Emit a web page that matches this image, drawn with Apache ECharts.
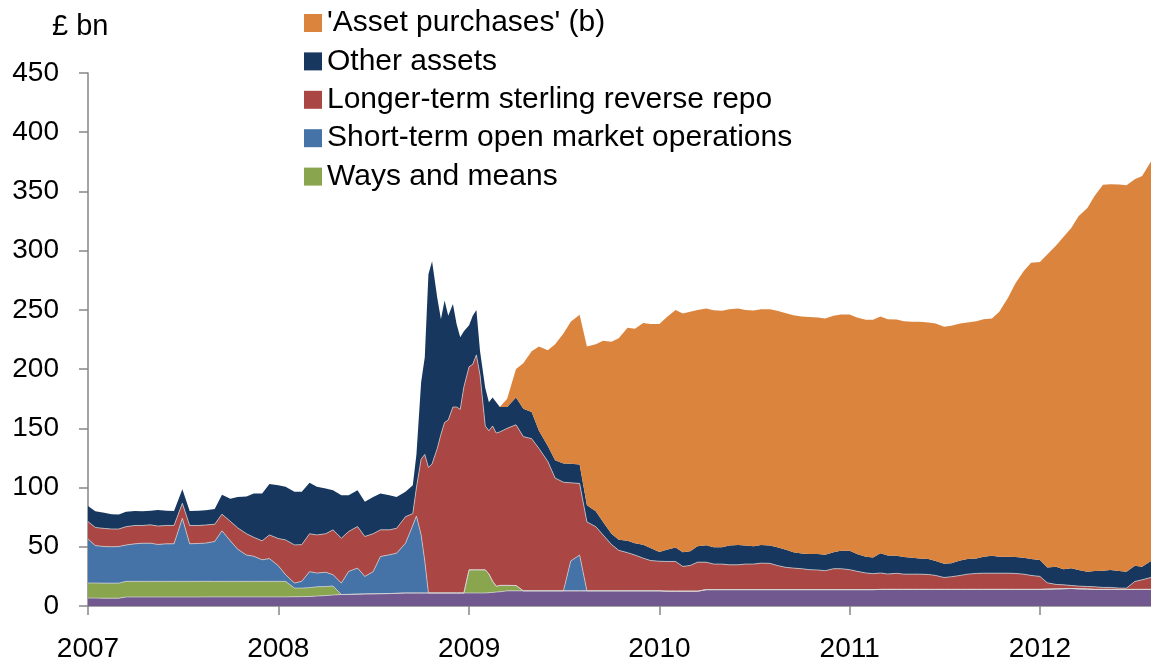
<!DOCTYPE html>
<html>
<head>
<meta charset="utf-8">
<script src="https://cdn.jsdelivr.net/npm/echarts@6/dist/echarts.min.js"></script>
<style>
  html, body { margin: 0; padding: 0; background: #fff; }
  #chart { width: 1151px; height: 663px; }
</style>
</head>
<body>
<div id="chart"></div>
<script>
// observation dates (semi-monthly, weekly around the late-2008 spike)
const dates = [
  '2007-01-01','2007-01-15','2007-02-01','2007-02-15','2007-03-01','2007-03-15','2007-04-01','2007-04-15','2007-05-01','2007-05-15','2007-06-01','2007-06-15',
  '2007-07-01','2007-07-15','2007-08-01','2007-08-15','2007-09-01','2007-09-15','2007-10-01','2007-10-15','2007-11-01','2007-11-15','2007-12-01','2007-12-15',
  '2008-01-01','2008-01-15','2008-02-01','2008-02-15','2008-03-01','2008-03-15','2008-04-01','2008-04-15','2008-05-01','2008-05-15','2008-06-01','2008-06-15',
  '2008-07-01','2008-07-15','2008-08-01','2008-08-15','2008-09-01',
  '2008-09-15','2008-09-22','2008-10-01','2008-10-08','2008-10-15','2008-10-22','2008-11-01','2008-11-08','2008-11-15','2008-11-22','2008-12-01','2008-12-08','2008-12-15','2008-12-22',
  '2009-01-01','2009-01-08','2009-01-15','2009-01-22','2009-02-01','2009-02-08','2009-02-15','2009-02-22','2009-03-01',
  '2009-03-15','2009-04-01','2009-04-15','2009-05-01','2009-05-15','2009-06-01','2009-06-15',
  '2009-07-01','2009-07-15','2009-08-01','2009-08-15','2009-09-01','2009-09-15','2009-10-01','2009-10-15','2009-11-01','2009-11-15','2009-12-01','2009-12-15',
  '2010-01-01','2010-01-15','2010-02-01','2010-02-15','2010-03-01','2010-03-15','2010-04-01','2010-04-15','2010-05-01','2010-05-15','2010-06-01','2010-06-15',
  '2010-07-01','2010-07-15','2010-08-01','2010-08-15','2010-09-01','2010-09-15','2010-10-01','2010-10-15','2010-11-01','2010-11-15','2010-12-01','2010-12-15',
  '2011-01-01','2011-01-15','2011-02-01','2011-02-15','2011-03-01','2011-03-15','2011-04-01','2011-04-15','2011-05-01','2011-05-15','2011-06-01','2011-06-15',
  '2011-07-01','2011-07-15','2011-08-01','2011-08-15','2011-09-01','2011-09-15','2011-10-01','2011-10-15','2011-11-01','2011-11-15','2011-12-01','2011-12-15',
  '2012-01-01','2012-01-15','2012-02-01','2012-02-15','2012-03-01','2012-03-15','2012-04-01','2012-04-15','2012-05-01','2012-05-15','2012-06-01','2012-06-15',
  '2012-07-01','2012-07-15','2012-08-01'
];

// £ bn, bottom layer (unlabelled)
const otherBase = [
  6.7,6.7,6.6,6.6,6.6,
  7.6,7.6,7.6,7.6,7.6,7.6,7.6,7.6,7.6,7.6,7.7,7.7,7.7,7.7,7.7,7.7,7.7,7.7,7.7,7.7,
  7.7,7.8,7.9,8.0,8.4,8.8,9.3,
  9.7,9.8,10.0,10.2,10.3,10.4,10.5,10.7,11.0,
  11.0,11.0,11.0,11.0,11.0,11.0,11.0,11.0,11.0,11.0,11.0,11.0,11.0,11.0,
  11.0,11.0,11.0,11.0,11.0,11.2,11.5,11.8,12.0,
  12.8,12.8,12.8,12.8,12.8,12.8,12.8,12.8,12.8,12.8,12.8,12.8,12.8,12.8,12.8,12.8,12.8,12.8,12.8,12.8,
  12.5,12.5,12.5,12.5,12.5,
  13.8,13.8,13.8,13.8,13.8,13.8,13.8,13.8,13.8,13.8,13.8,13.8,13.8,13.8,13.8,13.8,13.8,13.8,13.8,13.8,13.8,13.8,
  14.0,14.0,14.0,14.0,14.0,14.0,14.0,14.0,14.0,14.0,14.0,14.0,14.0,14.0,14.0,14.0,14.0,14.0,14.0,14.0,14.0,
  14.2,14.4,14.6,14.8,14.5,14.3,
  14.0,14.0,14.0,14.0,14.0,14.0,14.0,14.0
];

const waysAndMeans = [
  12.7,12.7,12.7,12.7,12.7,
  13.2,13.2,13.2,13.2,13.2,13.2,13.2,13.2,13.2,13.2,13.2,
  13.1,13.1,13.1,13.1,13.1,13.1,13.1,13.1,13.1,13.1,
  7.3,7.2,7.5,7.8,7.6,7.6,
  0,0,0,0,0,0,0,0,0,
  0,0,0,0,0,0,0,0,0,0,0,0,0,0,
  19.5,19.5,19.5,19.5,19.5,15.8,9.5,4.8,5.4,
  4.6,4.5,
  0,0,0,0,0,0,0,0,0,0,0,0,0,0,0,0,0,0,
  0,0,0,0,0,0,0,0,0,0,0,0,0,0,0,0,0,0,0,0,
  0,0,0,0,0,0,0,0,0,0,0,0,0,0,0,0,0,0,0,0,
  0,0,0,0,0,0,0,0,0,0,0,0,0,0,0,0,0,0,0,0,
  0,0
];

const shortTermOmo = [
  37.2,31.6,30.9,30.7,30.9,30.7,31.7,32.2,32.2,31.2,
  31.7,31.7,53.2,31.7,32.0,32.2,33.6,42.7,34.2,27.2,
  22.2,21.2,18.2,19.2,13.2,5.6,4.3,5.7,13.5,11.6,
  12.1,9.5,9.7,19.4,22.0,14.8,18.7,31.4,32.7,33.9,
  42.0,
  57.0,65.0,49.0,27.0,0,0,0,0,0,0,0,0,0,0,
  0,0,0,0,0,0,0,0,0,
  0,0,0,0,0,0,0,0,
  25.2,30.2,
  0,0,0,0,0,0,0,0,0,0,0,0,0,0,0,0,0,0,0,0,0,0,0,0,
  0,0,0,0,0,0,0,0,0,0,0,0,0,0,0,0,0,0,0,0,0,0,0,0,
  0,0,0,0,0,0,0,0,0,0,0,0,0,0,0,0,0,0,0,0,0,0,0,0
];

const longerTermRepo = [
  14.7,15.3,15.3,15.0,14.8,15.5,15.5,15.0,15.5,15.5,
  15.5,15.5,12.7,15.5,15.2,15.3,14.6,14.0,16.5,18.0,
  18.0,16.0,16.0,20.0,23.0,29.4,32.2,31.0,32.0,32.2,
  32.5,37.9,37.9,33.7,35.1,33.7,32.0,22.5,21.1,21.0,
  22.4,
  10.0,24.0,64.0,90.0,106.0,109.0,122.0,134.0,144.0,146.0,157.0,157.0,155.0,174.0,
  171.5,173.5,181.5,164.5,121.5,121.0,131.0,129.4,129.6,
  132.6,135.7,130.2,128.5,120.2,109.2,95.2,91.7,66.0,60.5,
  58.2,54.2,47.2,39.2,34.2,32.2,30.2,27.6,25.6,25.0,
  25.1,25.1,20.9,21.7,24.5,
  23.2,21.6,21.6,21.0,21.0,21.6,21.6,22.4,22.2,20.4,18.8,
  18.2,17.7,16.9,16.6,16.0,17.7,17.7,16.9,15.5,14.1,13.5,
  13.9,13.0,13.6,12.9,12.9,12.9,12.6,11.8,10.1,10.7,11.8,
  12.9,13.5,13.7,13.7,13.7,13.7,13.5,12.9,11.8,11.0,
  5.4,3.8,3.3,2.5,2.3,2.2,2.2,1.7,1.7,1.1,1.1,6.7,8.1,10.1
];

const otherAssets = [
  13.1,13.7,13.3,12.5,12.2,12.5,12.2,12.0,12.0,13.5,
  12.5,12.2,11.9,12.2,12.5,12.5,13.0,16.5,19.0,26.0,
  31.5,37.0,40.0,43.0,45.0,44.8,44.8,44.6,43.0,40.6,
  38.2,33.5,36.3,30.7,30.7,29.3,31.0,30.7,29.3,26.4,
  21.0,
  24.0,28.0,65.0,82.0,163.0,171.0,127.0,97.0,103.0,88.0,87.0,70.0,61.0,47.0,
  35.0,41.0,38.0,20.0,32.0,24.0,24.0,26.0,21.0,
  18.0,23.0,23.5,22.4,15.0,13.0,15.0,15.8,16.0,16.0,
  14.0,13.0,11.0,9.0,9.0,10.0,10.0,11.3,10.5,7.7,
  9.8,11.8,12.0,12.1,13.5,
  14.3,14.2,14.2,16.2,16.8,15.6,15.1,15.4,15.0,15.4,14.8,
  13.4,12.8,13.1,13.4,13.4,13.9,15.1,15.9,14.5,13.6,13.7,
  16.7,15.6,14.9,14.5,13.9,13.3,13.1,12.2,11.6,11.3,12.7,
  12.8,12.7,13.9,14.8,13.9,13.9,13.9,13.9,13.9,13.8,
  12.8,15.0,13.1,14.5,13.6,12.5,13.4,14.1,14.7,14.5,13.9,13.3,11.1,13.8
];

const assetPurchases = [
  0,0,0,0,0,0,0,0,0,0,0,0,0,0,0,0,0,0,0,0,0,0,0,0,0,0,0,0,0,0,0,0,0,0,0,0,0,0,0,0,0,
  0,0,0,0,0,0,0,0,0,0,0,0,0,0,
  0,0,0,0,0,0,0,0,0,
  7,24,38.5,51.3,71,81,98,109.7,120,126.5,
  134,141,153,162,170,180,181,187.3,189.1,192.5,
  196.3,200.6,201.6,202.1,199.5,
  199.9,200.2,199.6,199.6,199.6,199.0,198.9,199.0,199.6,199.6,199.8,
  200.1,200.1,200.3,199.7,199.5,199.6,199.5,199.5,199.7,200.1,200.6,
  199.8,199.6,199.4,199.1,199.2,199.8,199.7,200.6,200.1,200.6,200.1,
  199.7,200.3,200.6,200.3,206.8,218.8,231.1,242.0,250.1,251.6,
  264.4,271.2,280.6,287.4,298.6,307.0,316.7,325.8,325.7,326.2,326.3,326.3,329.9,337.3
];

const yTicks = [0, 50, 100, 150, 200, 250, 300, 350, 400, 450];

const FONT = '"Liberation Sans", Arial, sans-serif';
const AXIS_GREY = '#868686';
const EDGE = 'rgba(215,215,215,0.7)';

function layer(name, values, color, edge) {
  return {
    name: name,
    type: 'line',
    stack: 'total',
    symbol: 'none',
    showSymbol: false,
    lineStyle: { width: edge ? 1 : 0, color: EDGE },
    itemStyle: { color: color },
    areaStyle: { color: color, opacity: 1 },
    emphasis: { disabled: true },
    data: dates.map((d, i) => [d, values[i]])
  };
}

const chart = echarts.init(document.getElementById('chart'));

chart.setOption({
  animation: false,
  backgroundColor: '#fff',
  grid: { left: 88, right: 0, top: 73, bottom: 55, containLabel: false },
  graphic: [{
    type: 'text',
    left: 52,
    top: 12,
    style: { text: '£ bn', fontSize: 29, fontFamily: FONT, fill: '#000' }
  }],
  legend: {
    orient: 'vertical',
    left: 304,
    top: 8,
    padding: 0,
    itemWidth: 18,
    itemHeight: 18,
    itemGap: 8.4,
    icon: 'rect',
    textStyle: { fontSize: 30, fontFamily: FONT, color: '#000', lineHeight: 30 },
    data: ["'Asset purchases' (b)", 'Other assets', 'Longer-term sterling reverse repo',
           'Short-term open market operations', 'Ways and means']
  },
  xAxis: {
    type: 'time',
    min: dates[0],
    max: dates[dates.length - 1],
    minInterval: 365 * 24 * 3600 * 1000,
    maxInterval: 366 * 24 * 3600 * 1000,
    axisLine: { show: true, lineStyle: { color: AXIS_GREY, width: 1.5 } },
    axisTick: { show: true, length: 9, lineStyle: { color: AXIS_GREY, width: 1.5 } },
    axisLabel: {
      fontSize: 28, fontFamily: FONT, color: '#000', margin: 29,
      formatter: v => String(new Date(v).getFullYear())
    },
    splitLine: { show: false }
  },
  yAxis: {
    type: 'value',
    min: yTicks[0],
    max: yTicks[yTicks.length - 1],
    interval: 50,
    axisLine: { show: true, lineStyle: { color: AXIS_GREY, width: 1.5 } },
    axisTick: { show: true, length: 9, lineStyle: { color: AXIS_GREY, width: 1.5 } },
    axisLabel: { fontSize: 28, fontFamily: FONT, color: '#000', margin: 29 },
    splitLine: { show: false }
  },
  series: [
    layer('Other', otherBase, '#71588F', true),
    layer('Ways and means', waysAndMeans, '#89A54E', true),
    layer('Short-term open market operations', shortTermOmo, '#4572A7', true),
    layer('Longer-term sterling reverse repo', longerTermRepo, '#AA4643', true),
    layer('Other assets', otherAssets, '#17375E', false),
    layer("'Asset purchases' (b)", assetPurchases, '#DB843D', false)
  ]
});
</script>
</body>
</html>
